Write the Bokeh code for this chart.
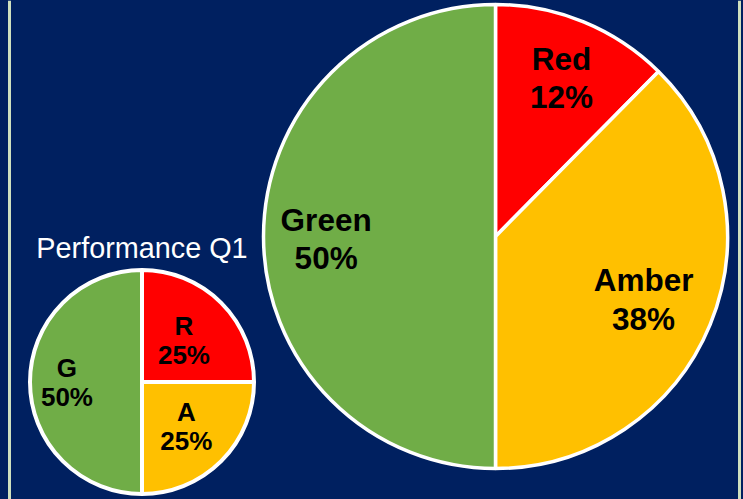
import math
from bokeh.plotting import figure
from bokeh.models import Range1d, Span
from bokeh.embed import file_html
from bokeh.resources import INLINE
from bokeh.core.properties import value

# ---------------- data ----------------
big_categories = ["Red", "Amber", "Green"]
big_values = [12.4, 37.6, 50.0]
big_labels = ["12%", "38%", "50%"]

small_title = "Performance Q1"
small_categories = ["R", "A", "G"]
small_values = [25.0, 25.0, 50.0]
small_labels = ["25%", "25%", "50%"]

slice_colors = ["#FF0000", "#FFC000", "#70AD47"]

# ---------------- layout / style ----------------
NAVY = "#002060"
W, H = 743, 499
FONT = "Liberation Sans"
TEXT_LIFT = 9


def dy(screen_y):
    return H - screen_y


p = figure(width=W, height=H,
           x_range=Range1d(0, W), y_range=Range1d(0, H),
           output_backend="svg", toolbar_location=None, min_border=0,
           background_fill_color=NAVY, border_fill_color=NAVY,
           outline_line_color=None)
p.axis.visible = False
p.grid.visible = False


def pie(cx, cy_screen, r, values, cats, labels, lw, fsize, fracs, gap):
    cy = dy(cy_screen)
    total = sum(values)
    cum = 0.0
    starts, ends = [], []
    for v in values:
        starts.append(math.pi / 2 - 2 * math.pi * cum / total)
        cum += v
        ends.append(math.pi / 2 - 2 * math.pi * cum / total)
    p.wedge(x=cx, y=cy, radius=r, start_angle=starts, end_angle=ends,
            direction="clock", fill_color=slice_colors, line_color="white",
            line_width=lw)
    cap = 0.716 * fsize
    xs, y1, y2 = [], [], []
    for s, e, f in zip(starts, ends, fracs):
        a = (s + e) / 2
        lx = cx + f * r * math.cos(a)
        ly = cy + f * r * math.sin(a) + TEXT_LIFT
        xs.append(lx)
        y1.append(ly + gap / 2 - cap / 2)
        y2.append(ly - gap / 2 - cap / 2)
    for ys, txt in ((y1, cats), (y2, labels)):
        p.text(x=xs, y=ys, text=txt, text_align="center",
               text_baseline="alphabetic", text_font=value(FONT),
               text_font_style="bold", text_font_size=f"{fsize}px",
               text_color="black")


# big pie
pie(495, 236, 232, big_values, big_categories, big_labels,
    3.5, 31.5, [0.75, 0.69, 0.73], 38.5)

# small pie
pie(141.5, 381.5, 112, small_values, small_categories, small_labels,
    4, 26, [0.53, 0.56, 0.67], 29.5)

p.text(x=[141.5], y=[dy(256.5) + TEXT_LIFT], text=[small_title], text_align="center",
       text_baseline="alphabetic", text_font=value(FONT),
       text_font_size="28.8px", text_color="white")

for loc in (9.0, 739.0):
    p.add_layout(Span(location=loc, dimension="height",
                      line_color="#CFE0BF", line_width=3))

html = file_html(p, INLINE)
html = html.replace("</head>",
                    "<style>html, body {background-color: #002060;}</style></head>", 1)
open("out.html", "w").write(html)
